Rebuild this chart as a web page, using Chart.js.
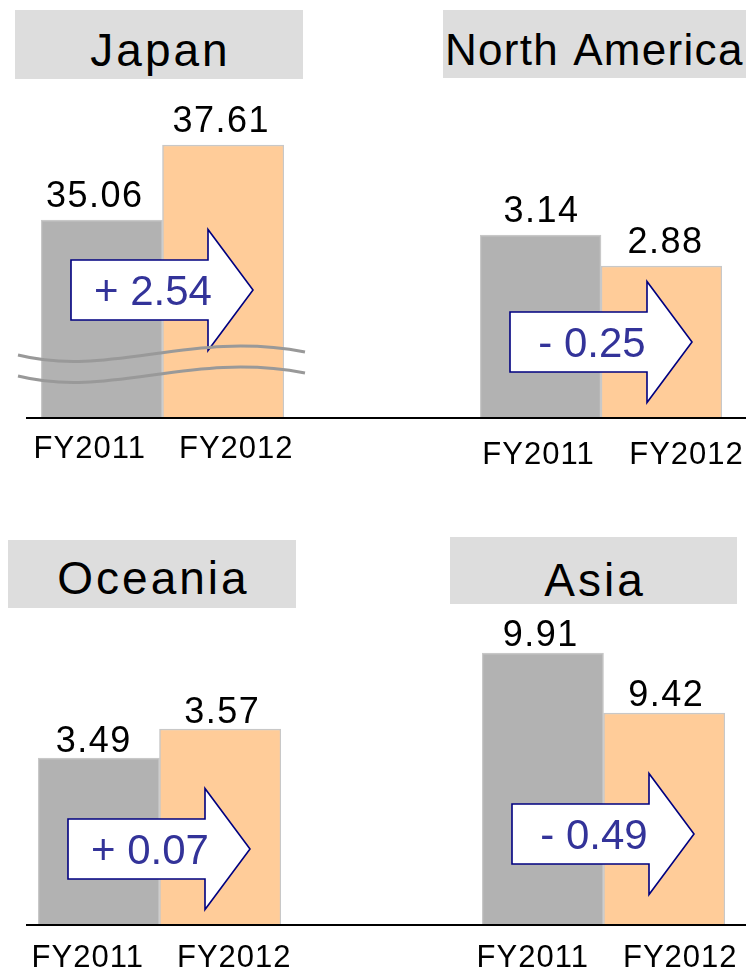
<!DOCTYPE html>
<html>
<head>
<meta charset="utf-8">
<script src="https://cdn.jsdelivr.net/npm/chart.js@4/dist/chart.umd.min.js"></script>
<style>
  html, body { margin: 0; padding: 0; background: #fff; }
  body { width: 746px; height: 970px; position: relative; overflow: hidden;
         font-family: "Liberation Sans", Arial, sans-serif; }
  canvas.panel { position: absolute; left: 0; top: 0; }
  .title { position: absolute; background: #dddddd; color: #000; white-space: nowrap;
           font-size: 46px; letter-spacing: 3px; text-align: center; box-sizing: border-box;
           padding-left: 3px; }
</style>
</head>
<body>
<div class="title" id="t0" style="left:15px;top:10px;width:288px;height:69px;line-height:80px;"></div>
<div class="title" id="t1" style="left:443px;top:10px;width:340px;height:68px;line-height:79px;font-size:44px;letter-spacing:1.3px;word-spacing:3px;text-align:left;padding-left:2px;"></div>
<div class="title" id="t2" style="left:8px;top:540px;width:288px;height:68px;line-height:76px;"></div>
<div class="title" id="t3" style="left:450px;top:537px;width:287px;height:67px;line-height:86px;"></div>

<canvas class="panel" id="c0" width="746" height="970"></canvas>
<canvas class="panel" id="c1" width="746" height="970"></canvas>
<canvas class="panel" id="c2" width="746" height="970"></canvas>
<canvas class="panel" id="c3" width="746" height="970"></canvas>

<script>
// Net sales by region, FY2011 vs FY2012
const regions = ['Japan', 'North America', 'Oceania', 'Asia'];
const periods = ['FY2011', 'FY2012'];
const fy2011 = [35.06, 3.14, 3.49, 9.91];
const fy2012 = [37.61, 2.88, 3.57, 9.42];
const changes = ['+ 2.54', '- 0.25', '+ 0.07', '- 0.49'];

const FONT = '"Liberation Sans", Arial, sans-serif';
const GREY = '#b2b2b2';
const PEACH = '#ffcc99';

// Per-panel layout: plot box, value range, decoration placement
const panels = [
  { area: { left: 41, right: 284, top: 100, bottom: 418 }, yMin: 28.33, yMax: 39.14,
    arrowRise: 128, labelGap: 13, valueShift: [-7, -2], axisFrom: 26, axisTo: 373,
    tickShift: [-12, 13], tickBase: 458, brk: true },
  { area: { left: 480, right: 722, top: 100, bottom: 418 }, yMin: 1.605, yMax: 4.273,
    arrowRise: 76, labelGap: 13, valueShift: [1, 4], axisFrom: 373, axisTo: 746,
    tickShift: [-2, 25], tickBase: 464, brk: false },
  { area: { left: 38, right: 281, top: 600, bottom: 925 }, yMin: 3.029, yMax: 3.926,
    arrowRise: 76, labelGap: 6, valueShift: [-5, 2], axisFrom: 26, axisTo: 373,
    tickShift: [-11, 14], tickBase: 967, brk: false },
  { area: { left: 482, right: 725, top: 600, bottom: 925 }, yMin: 7.689, yMax: 10.343,
    arrowRise: 91, labelGap: 7, valueShift: [-2, 2], axisFrom: 373, axisTo: 746,
    tickShift: [-10, 16], tickBase: 967, brk: false }
];

// Draws value labels, the change arrow, axis line, category labels and the scale-break waves
const decorations = {
  id: 'decorations',
  afterDatasetsDraw(chart, args, opts) {
    const ctx = chart.ctx;
    const xs = chart.scales.x, ys = chart.scales.y;
    const meta = chart.getDatasetMeta(0);
    const ds = chart.data.datasets[0];
    const base = ys.getPixelForValue(ys.min);
    ctx.save();

    // values above bars
    ctx.fillStyle = '#000';
    ctx.font = '36px ' + FONT;
    ctx.letterSpacing = '1.5px';
    ctx.textAlign = 'center';
    ctx.textBaseline = 'alphabetic';
    meta.data.forEach((bar, i) => {
      ctx.fillText(ds.data[i].toFixed(2), bar.x + opts.valueShift[i], bar.y - opts.labelGap);
    });

    // change arrow starting inside the first bar
    const b0 = meta.data[0];
    const left = b0.x - b0.width / 2 + 30;
    const cy = base - opts.arrowRise;
    const bodyLen = 137, headLen = 45, bodyH = 60, headH = 121;
    ctx.beginPath();
    ctx.moveTo(left, cy - bodyH / 2);
    ctx.lineTo(left + bodyLen, cy - bodyH / 2);
    ctx.lineTo(left + bodyLen, cy - headH / 2);
    ctx.lineTo(left + bodyLen + headLen, cy);
    ctx.lineTo(left + bodyLen, cy + headH / 2);
    ctx.lineTo(left + bodyLen, cy + bodyH / 2);
    ctx.lineTo(left, cy + bodyH / 2);
    ctx.closePath();
    ctx.fillStyle = '#ffffff';
    ctx.fill();
    ctx.lineWidth = 1.6;
    ctx.strokeStyle = '#000080';
    ctx.lineJoin = 'miter';
    ctx.stroke();
    ctx.fillStyle = '#333399';
    ctx.font = '42px ' + FONT;
    ctx.letterSpacing = '0px';
    ctx.fillText(opts.change, left + 82, cy + 15);

    // scale-break waves
    if (opts.brk) {
      const x0 = chart.chartArea.left - 23, x1 = chart.chartArea.right + 21;
      ctx.strokeStyle = '#999999';
      ctx.lineWidth = 3;
      [0, 21].forEach(dy => {
        const y0 = base - 63 + dy;
        ctx.beginPath();
        ctx.moveTo(x0, y0);
        ctx.bezierCurveTo(x0 + 92, y0 + 23, x0 + 172, y0 - 25, x1, y0 - 3);
        ctx.stroke();
      });
    }

    // baseline
    ctx.strokeStyle = '#000';
    ctx.lineWidth = 2;
    ctx.beginPath();
    ctx.moveTo(opts.axisFrom, base);
    ctx.lineTo(opts.axisTo, base);
    ctx.stroke();

    // category labels
    ctx.fillStyle = '#000';
    ctx.font = '31px ' + FONT;
    ctx.letterSpacing = '1px';
    chart.data.labels.forEach((lab, i) => {
      ctx.fillText(lab, xs.getPixelForValue(i) + opts.tickShift[i], opts.tickBase);
    });
    ctx.restore();
  }
};

regions.forEach((name, i) => {
  document.getElementById('t' + i).textContent = name;
  const p = panels[i];
  new Chart(document.getElementById('c' + i), {
    type: 'bar',
    data: {
      labels: periods,
      datasets: [{
        data: [fy2011[i], fy2012[i]],
        backgroundColor: [GREY, PEACH],
        borderColor: '#c8c8c8',
        borderWidth: 1.5,
        barPercentage: 1,
        categoryPercentage: 1
      }]
    },
    options: {
      responsive: false,
      animation: false,
      devicePixelRatio: 1,
      layout: {
        padding: { left: p.area.left, right: 746 - p.area.right, top: p.area.top, bottom: 970 - p.area.bottom }
      },
      scales: {
        x: { display: false },
        y: { display: false, min: p.yMin, max: p.yMax }
      },
      plugins: {
        legend: { display: false },
        tooltip: { enabled: false },
        decorations: Object.assign({ change: changes[i] }, p)
      }
    },
    plugins: [decorations]
  });
});
</script>
</body>
</html>
